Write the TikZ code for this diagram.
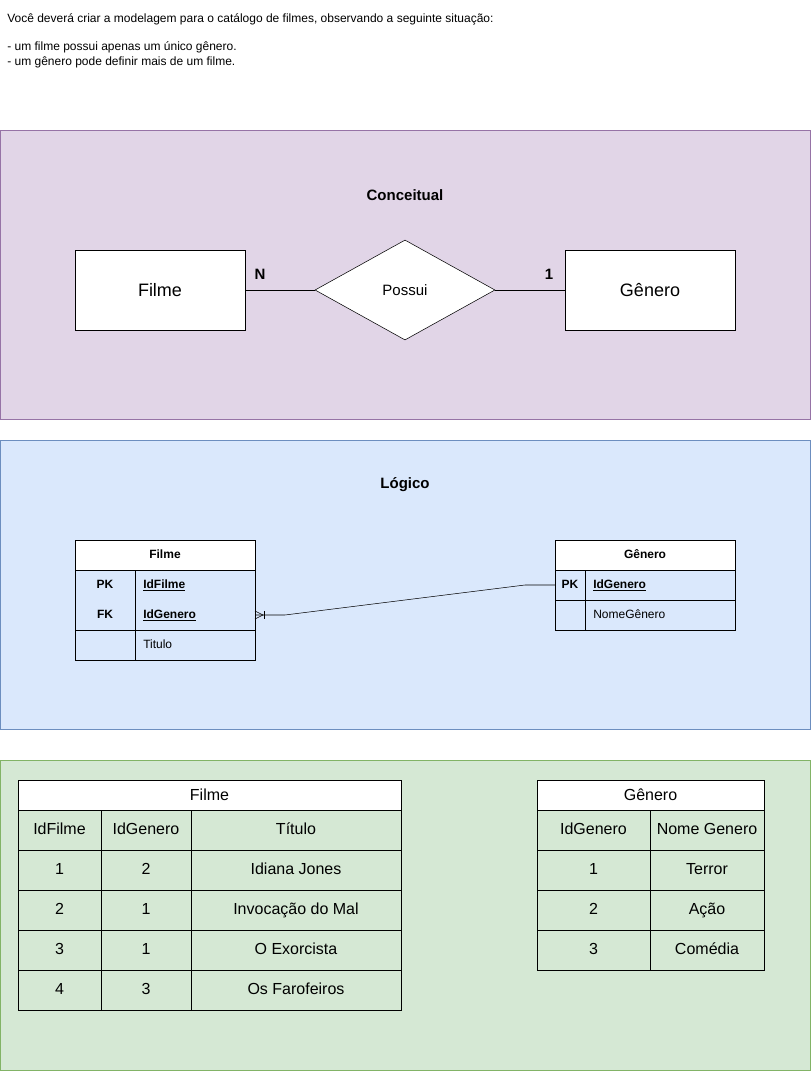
\documentclass[tikz,border=0pt]{standalone}
\usepackage{fontspec}
\setmainfont{Liberation Sans}
\usetikzlibrary{shapes.geometric}

\definecolor{roxofill}{HTML}{E1D5E7}
\definecolor{roxoline}{HTML}{9673A6}
\definecolor{azulfill}{HTML}{DAE8FC}
\definecolor{azulline}{HTML}{6C8EBF}
\definecolor{verdefill}{HTML}{D5E8D4}
\definecolor{verdeline}{HTML}{82B366}

\tikzset{
  entidade/.style={draw, fill=white, minimum width=127.5pt, minimum height=60pt, inner sep=0pt, font=\fontsize{13.5}{16}\selectfont},
  relacao/.style={draw, fill=white, shape=diamond, minimum width=135pt, minimum height=75pt, inner sep=0pt, font=\fontsize{11.25}{13}\selectfont},
  titulo/.style={font=\fontsize{11.25}{13}\selectfont\bfseries, inner sep=0pt},
  cardin/.style={font=\fontsize{11.25}{13}\selectfont\bfseries, inner sep=0pt},
  nota/.style={anchor=west, inner sep=0pt, font=\fontsize{9}{11}\selectfont},
  campo/.style={inner sep=0pt, text height=6.5pt, text depth=1.9pt, font=\fontsize{9}{11}\selectfont},
  celula/.style={inner sep=0pt, text height=8.7pt, text depth=2.5pt, font=\fontsize{12}{14}\selectfont}
}

\begin{document}
\begin{tikzpicture}[x=0.75pt,y=-0.75pt]
  \useasboundingbox (0,0) rectangle (811,1071);

  % enunciado
  \node[nota] (txt1) at (7,19) {Você deverá criar a modelagem para o catálogo de filmes, observando a seguinte situação:};
  \node[nota] (txt2) at (7,47) {- um filme possui apenas um único gênero.};
  \node[nota] (txt3) at (7,62) {- um gênero pode definir mais de um filme.};

  % conceitual
  \draw[draw=roxoline, fill=roxofill] (0.5,130.5) rectangle (810.5,419.5);
  \node[titulo] (tconc) at (405,195) {Conceitual};
  \node[entidade] (filme) at (160,290) {Filme};
  \node[relacao] (possui) at (405,290) {Possui};
  \node[entidade] (genero) at (650,290) {Gênero};
  \draw (filme) -- (possui);
  \draw (possui) -- (genero);
  \node[cardin] (cn) at (260,274) {N};
  \node[cardin] (c1) at (549,274) {1};

  % logico
  \draw[draw=azulline, fill=azulfill] (0.5,440.5) rectangle (810.5,729.5);
  \node[titulo] (tlog) at (405,485) {Lógico};

  \draw[fill=white] (75,540) rectangle (255,570);
  \draw (75,570) rectangle (255,660);
  \draw (75,630) -- (255,630);
  \draw (135,570) -- (135,660);
  \node[campo, font=\fontsize{9}{11}\selectfont\bfseries] (lfilme) at (165,555) {Filme};
  \node[campo, font=\fontsize{9}{11}\selectfont\bfseries] (lpk1) at (105,585) {PK};
  \node[campo, font=\fontsize{9}{11}\selectfont\bfseries] (lfk1) at (105,615) {FK};
  \node[campo, anchor=west, font=\fontsize{9}{11}\selectfont\bfseries] (lidf) at (143,585) {\underline{IdFilme}};
  \node[campo, anchor=west, font=\fontsize{9}{11}\selectfont\bfseries] (lidg) at (143,615) {\underline{IdGenero}};
  \node[campo, anchor=west] (ltit) at (143,645) {Titulo};

  \draw[fill=white] (555,540) rectangle (735,570);
  \draw (555,570) rectangle (735,630);
  \draw (555,600) -- (735,600);
  \draw (585,570) -- (585,630);
  \node[campo, font=\fontsize{9}{11}\selectfont\bfseries] (lgenero) at (645,555) {Gênero};
  \node[campo, font=\fontsize{9}{11}\selectfont\bfseries] (lpk2) at (570,585) {PK};
  \node[campo, anchor=west, font=\fontsize{9}{11}\selectfont\bfseries] (lidg2) at (593,585) {\underline{IdGenero}};
  \node[campo, anchor=west] (lnome) at (593,615) {NomeGênero};

  \coordinate (fkfim) at (255,615);
  \coordinate (dobra1) at (285,615);
  \coordinate (dobra2) at (525,585);
  \coordinate (pkfim) at (555,585);
  \draw (fkfim) -- (dobra1) -- (dobra2) -- (pkfim);
  \draw (255,611) -- (263,615) -- (255,619);
  \draw (264,611) -- (264,619);

  % fisico
  \draw[draw=verdeline, fill=verdefill] (0.5,760.5) rectangle (810.5,1070.5);

  \draw[fill=white] (18,780) rectangle (401,810);
  \draw (18,810) rectangle (401,1010);
  \foreach \yy in {850,890,930,970} \draw (18,\yy) -- (401,\yy);
  \draw (101,810) -- (101,1010);
  \draw (191,810) -- (191,1010);
  \node[celula] (ffilme) at (209.5,796) {Filme};
  \node[celula] (fc1) at (59.5,830) {IdFilme};
  \node[celula] (fc2) at (146,830) {IdGenero};
  \node[celula] (fc3) at (296,830) {Título};
  \foreach \a/\b/\c [count=\i] in {1/2/Idiana Jones, 2/1/Invocação do Mal, 3/1/O Exorcista, 4/3/Os Farofeiros} {
    \node[celula] (fa\i) at (59.5,{830+40*\i}) {\a};
    \node[celula] (fb\i) at (146,{830+40*\i}) {\b};
    \node[celula] (fd\i) at (296,{830+40*\i}) {\c};
  }

  \draw[fill=white] (537,780) rectangle (764,810);
  \draw (537,810) rectangle (764,970);
  \foreach \yy in {850,890,930} \draw (537,\yy) -- (764,\yy);
  \draw (650,810) -- (650,970);
  \node[celula] (fgenero) at (650.5,796) {Gênero};
  \node[celula] (gc1) at (593.5,830) {IdGenero};
  \node[celula] (gc2) at (707,830) {Nome Genero};
  \foreach \a/\b [count=\i] in {1/Terror, 2/Ação, 3/Comédia} {
    \node[celula] (ga\i) at (593.5,{830+40*\i}) {\a};
    \node[celula] (gb\i) at (707,{830+40*\i}) {\b};
  }
\end{tikzpicture}
\end{document}
